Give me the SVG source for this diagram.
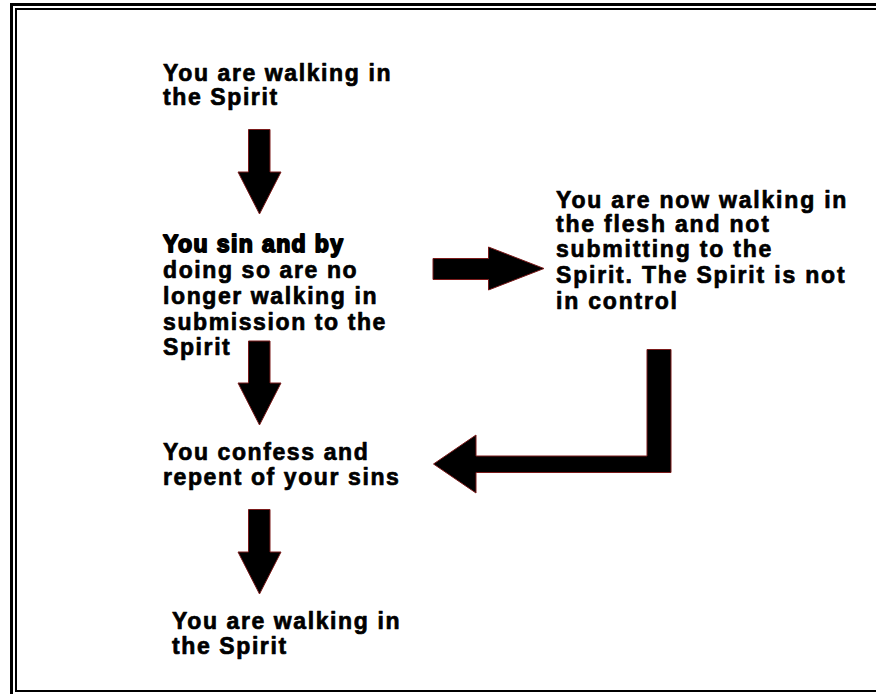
<svg xmlns="http://www.w3.org/2000/svg" width="876" height="694" viewBox="0 0 876 694">
<style>
.t{font-family:"Liberation Sans",Arial,sans-serif;font-weight:bold;font-size:23px;fill:#000;stroke:#000;stroke-width:0.7px;stroke-linejoin:round;letter-spacing:1.6px}
.wide{letter-spacing:1.8px}
.heavy{stroke-width:1.8px;letter-spacing:1.4px}
.arrow{fill:#000;stroke:#7a1a1a;stroke-width:1}
.frame{fill:none;stroke:#000}
</style>
<rect x="0" y="0" width="876" height="694" fill="#fff"/>
<g id="frame">
<rect class="frame" x="11.5" y="4.5" width="880" height="700" stroke-width="3"/>
<rect class="frame" x="16" y="9" width="880" height="682" stroke-width="2"/>
</g>
<g id="node-walking-top">
<text class="t" x="163" y="81">You are walking in</text>
<text class="t" x="163" y="105">the Spirit</text>
</g>
<g id="node-sin">
<text class="t heavy" x="163" y="252">You sin and by</text>
<text class="t" x="163" y="278">doing so are no</text>
<text class="t" x="163" y="304">longer walking in</text>
<text class="t" x="163" y="330">submission to the</text>
<text class="t" x="163" y="355">Spirit</text>
</g>
<g id="node-flesh">
<text class="t wide" x="556" y="207.5">You are now walking in</text>
<text class="t wide" x="556" y="232">the flesh and not</text>
<text class="t wide" x="556" y="257">submitting to the</text>
<text class="t wide" x="556" y="282.5">Spirit. The Spirit is not</text>
<text class="t wide" x="556" y="308.5">in control</text>
</g>
<g id="node-confess">
<text class="t" x="163" y="459.5">You confess and</text>
<text class="t" x="163" y="485">repent of your sins</text>
</g>
<g id="node-walking-bottom">
<text class="t" x="172" y="628.5">You are walking in</text>
<text class="t" x="172" y="654">the Spirit</text>
</g>
<g id="connectors">
<polygon class="arrow" points="248.5,129.5 270,129.5 270,172 281,172 259.5,214 238,172 248.5,172"/>
<polygon class="arrow" points="248.5,341 270,341 270,383 281,383 259.5,425 238,383 248.5,383"/>
<polygon class="arrow" points="248.5,509.5 270,509.5 270,552 281,552 259.5,594 238,552 248.5,552"/>
<polygon class="arrow" points="433,258.5 488.5,258.5 488.5,247 544,268.5 488.5,290 488.5,279.5 433,279.5"/>
<polygon class="arrow" points="647,349.5 671,349.5 671,472.5 476,472.5 476,493 433.5,464 476,435 476,456 647,456"/>
</g>
</svg>
